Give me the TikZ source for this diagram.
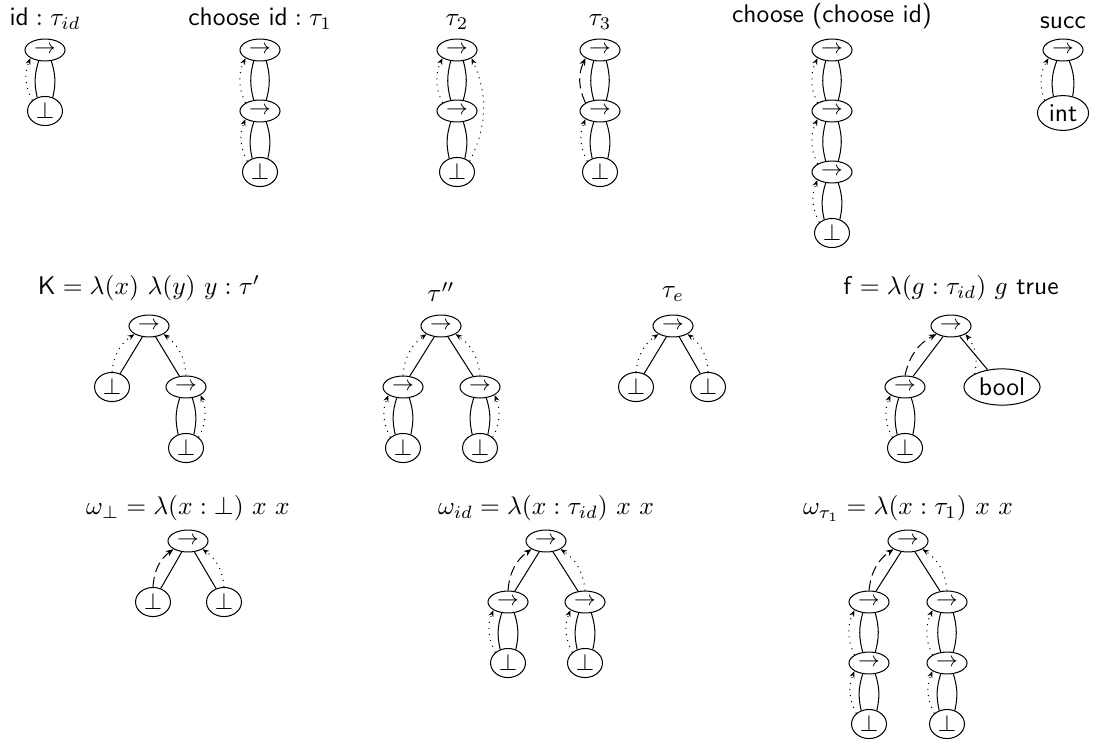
\documentclass[tikz,border=0pt]{standalone}
\usepackage{amsmath}
\usetikzlibrary{shapes.geometric,arrows.meta,positioning}

\tikzset{
  sym/.style={draw, ellipse, inner sep=0pt, font=\small},
  arr/.style={sym, font=\footnotesize, minimum width=15.7pt, minimum height=8.6pt},
  bot/.style={sym, minimum width=13.7pt, minimum height=11.4pt},
  base/.style={draw, ellipse, inner sep=1.5pt, font=\sffamily},
  lab/.style={inner sep=0pt},
  bind/.style={dotted, -{Stealth[length=2.6pt,width=2pt]}},
  rigid/.style={dash pattern=on 4pt off 2pt, -{Stealth[length=3pt,width=2.4pt]}}
}

% two edges from an arrow node to the same child
\newcommand{\lens}[2]{%
  \draw (#1.240) to[bend right=15] (#2.120);
  \draw (#1.300) to[bend left=15] (#2.60);
}

\begin{document}
\begin{tikzpicture}[x=0.392pt, y=0.392pt]
\useasboundingbox (0,0) rectangle (1093,740);

% id : tau_id
\begin{scope}[shift={(45,690)}]
\node[arr] (id1) at (0,0) {$\to$};
\node[bot] (id2) at (0,-61) {$\bot$};
\lens{id1}{id2}
\draw[bind] (id2.north west) to[bend left=25] (id1.south west);
\node[lab, above=3.5pt of id1] (idlab) {$\mathsf{id} : \tau_{id}$};
\end{scope}

% choose id : tau_1
\begin{scope}[shift={(260,690)}]
\node[arr] (ci1) at (0,0) {$\to$};
\node[arr] (ci2) at (0,-61) {$\to$};
\node[bot] (ci3) at (0,-122) {$\bot$};
\lens{ci1}{ci2}
\lens{ci2}{ci3}
\draw[bind] (ci2.north west) to[bend left=25] (ci1.south west);
\draw[bind] (ci3.north west) to[bend left=25] (ci2.south west);
\node[lab, above=3.5pt of ci1] (cilab) {$\mathsf{choose\ id} : \tau_1$};
\end{scope}

% tau_2
\begin{scope}[shift={(457,690)}]
\node[arr] (tw1) at (0,0) {$\to$};
\node[arr] (tw2) at (0,-61) {$\to$};
\node[bot] (tw3) at (0,-122) {$\bot$};
\lens{tw1}{tw2}
\lens{tw2}{tw3}
\draw[bind] (tw2.north west) to[bend left=25] (tw1.south west);
\draw[bind] (tw3.north east) to[bend right=25] (tw1.south east);
\node[lab, above=3.5pt of tw1] (twlab) {$\tau_2$};
\end{scope}

% tau_3
\begin{scope}[shift={(600,690)}]
\node[arr] (th1) at (0,0) {$\to$};
\node[arr] (th2) at (0,-61) {$\to$};
\node[bot] (th3) at (0,-122) {$\bot$};
\lens{th1}{th2}
\lens{th2}{th3}
\draw[rigid] (th2.north west) to[bend left=25] (th1.south west);
\draw[bind] (th3.north west) to[bend left=25] (th2.south west);
\node[lab, above=3.5pt of th1] (thlab) {$\tau_3$};
\end{scope}

% choose (choose id)
\begin{scope}[shift={(832,690)}]
\node[arr] (cc1) at (0,0) {$\to$};
\node[arr] (cc2) at (0,-61) {$\to$};
\node[arr] (cc3) at (0,-122) {$\to$};
\node[bot] (cc4) at (0,-183) {$\bot$};
\lens{cc1}{cc2}
\lens{cc2}{cc3}
\lens{cc3}{cc4}
\draw[bind] (cc2.north west) to[bend left=25] (cc1.south west);
\draw[bind] (cc3.north west) to[bend left=25] (cc2.south west);
\draw[bind] (cc4.north west) to[bend left=25] (cc3.south west);
\node[lab, above=3.5pt of cc1] (cclab) {\sffamily choose (choose id)};
\end{scope}

% succ
\begin{scope}[shift={(1063,690)}]
\node[arr] (su1) at (0,0) {$\to$};
\node[base] (su2) at (0,-63) {int};
\lens{su1}{su2}
\draw[bind] (su2.north west) to[bend left=25] (su1.south west);
\node[lab, above=3.5pt of su1] (sulab) {\sffamily succ};
\end{scope}

% K
\begin{scope}[shift={(149,414)}]
\node[arr] (k0) at (0,0) {$\to$};
\node[bot] (kl) at (-37,-61) {$\bot$};
\node[arr] (kr) at (37,-61) {$\to$};
\node[bot] (krb) at (37,-122) {$\bot$};
\draw (k0) -- (kl);
\draw (k0) -- (kr);
\lens{kr}{krb}
\draw[bind] (kl.north) to[bend left=25] (k0.south west);
\draw[bind] (kr.north) to[bend right=25] (k0.south east);
\draw[bind] (krb.north east) to[bend right=25] (kr.south east);
\node[lab, above=5pt of k0] (klab) {$\mathsf{K} = \lambda(x)\ \lambda(y)\ y : \tau'$};
\end{scope}

% tau''
\begin{scope}[shift={(441,414)}]
\node[arr] (pp0) at (0,0) {$\to$};
\node[arr] (ppl) at (-38,-61) {$\to$};
\node[arr] (ppr) at (39,-61) {$\to$};
\node[bot] (pplb) at (-38,-122) {$\bot$};
\node[bot] (pprb) at (39,-122) {$\bot$};
\draw (pp0) -- (ppl);
\draw (pp0) -- (ppr);
\lens{ppl}{pplb}
\lens{ppr}{pprb}
\draw[bind] (ppl.north) to[bend left=25] (pp0.south west);
\draw[bind] (ppr.north) to[bend right=25] (pp0.south east);
\draw[bind] (pplb.north west) to[bend left=25] (ppl.south west);
\draw[bind] (pprb.north east) to[bend right=25] (ppr.south east);
\node[lab, above=5pt of pp0] (pplab) {$\tau''$};
\end{scope}

% tau_e
\begin{scope}[shift={(673,414)}]
\node[arr] (te0) at (0,0) {$\to$};
\node[bot] (tel) at (-37,-61) {$\bot$};
\node[bot] (ter) at (35,-61) {$\bot$};
\draw (te0) -- (tel);
\draw (te0) -- (ter);
\draw[bind] (tel.north) to[bend left=25] (te0.south west);
\draw[bind] (ter.north) to[bend right=25] (te0.south east);
\node[lab, above=5pt of te0] (telab) {$\tau_e$};
\end{scope}

% f
\begin{scope}[shift={(951,414)}]
\node[arr] (f0) at (0,0) {$\to$};
\node[arr] (fl) at (-46,-61) {$\to$};
\node[base] (fr) at (51,-61) {bool};
\node[bot] (flb) at (-46,-122) {$\bot$};
\draw (f0) -- (fl);
\draw (f0) -- (fr);
\lens{fl}{flb}
\draw[rigid] (fl.north) to[bend left=25] (f0.south west);
\draw[bind] (fr.north west) to[bend right=25] (f0.south east);
\draw[bind] (flb.north west) to[bend left=25] (fl.south west);
\node[lab, above=5pt of f0] (flab) {$\mathsf{f} = \lambda(g : \tau_{id})\ g\ \mathsf{true}$};
\end{scope}

% omega_bot
\begin{scope}[shift={(188,199)}]
\node[arr] (wb0) at (0,0) {$\to$};
\node[bot] (wbl) at (-35,-61) {$\bot$};
\node[bot] (wbr) at (36,-61) {$\bot$};
\draw (wb0) -- (wbl);
\draw (wb0) -- (wbr);
\draw[rigid] (wbl.north) to[bend left=25] (wb0.south west);
\draw[bind] (wbr.north) to[bend right=25] (wb0.south east);
\node[lab, above=3pt of wb0] (wblab) {$\omega_\bot = \lambda(x : \bot)\ x\ x$};
\end{scope}

% omega_id
\begin{scope}[shift={(546,199)}]
\node[arr] (wi0) at (0,0) {$\to$};
\node[arr] (wil) at (-38,-61) {$\to$};
\node[arr] (wir) at (39,-61) {$\to$};
\node[bot] (wilb) at (-38,-122) {$\bot$};
\node[bot] (wirb) at (39,-122) {$\bot$};
\draw (wi0) -- (wil);
\draw (wi0) -- (wir);
\lens{wil}{wilb}
\lens{wir}{wirb}
\draw[rigid] (wil.north) to[bend left=25] (wi0.south west);
\draw[bind] (wir.north) to[bend right=25] (wi0.south east);
\draw[bind] (wilb.north west) to[bend left=25] (wil.south west);
\draw[bind] (wirb.north west) to[bend left=25] (wir.south west);
\node[lab, above=3pt of wi0] (wilab) {$\omega_{id} = \lambda(x : \tau_{id})\ x\ x$};
\end{scope}

% omega_tau1
\begin{scope}[shift={(908,199)}]
\node[arr] (wt0) at (0,0) {$\to$};
\node[arr] (wl1) at (-39,-61) {$\to$};
\node[arr] (wl2) at (-39,-122) {$\to$};
\node[bot] (wl3) at (-39,-183) {$\bot$};
\node[arr] (wr1) at (39,-61) {$\to$};
\node[arr] (wr2) at (39,-122) {$\to$};
\node[bot] (wr3) at (39,-183) {$\bot$};
\draw (wt0) -- (wl1);
\draw (wt0) -- (wr1);
\lens{wl1}{wl2}
\lens{wl2}{wl3}
\lens{wr1}{wr2}
\lens{wr2}{wr3}
\draw[rigid] (wl1.north) to[bend left=25] (wt0.south west);
\draw[bind] (wr1.north) to[bend right=25] (wt0.south east);
\draw[bind] (wl2.north west) to[bend left=25] (wl1.south west);
\draw[bind] (wl3.north west) to[bend left=25] (wl2.south west);
\draw[bind] (wr2.north west) to[bend left=25] (wr1.south west);
\draw[bind] (wr3.north west) to[bend left=25] (wr2.south west);
\node[lab, above=3pt of wt0] (wtlab) {$\omega_{\tau_1} = \lambda(x : \tau_1)\ x\ x$};
\end{scope}

\end{tikzpicture}
\end{document}
